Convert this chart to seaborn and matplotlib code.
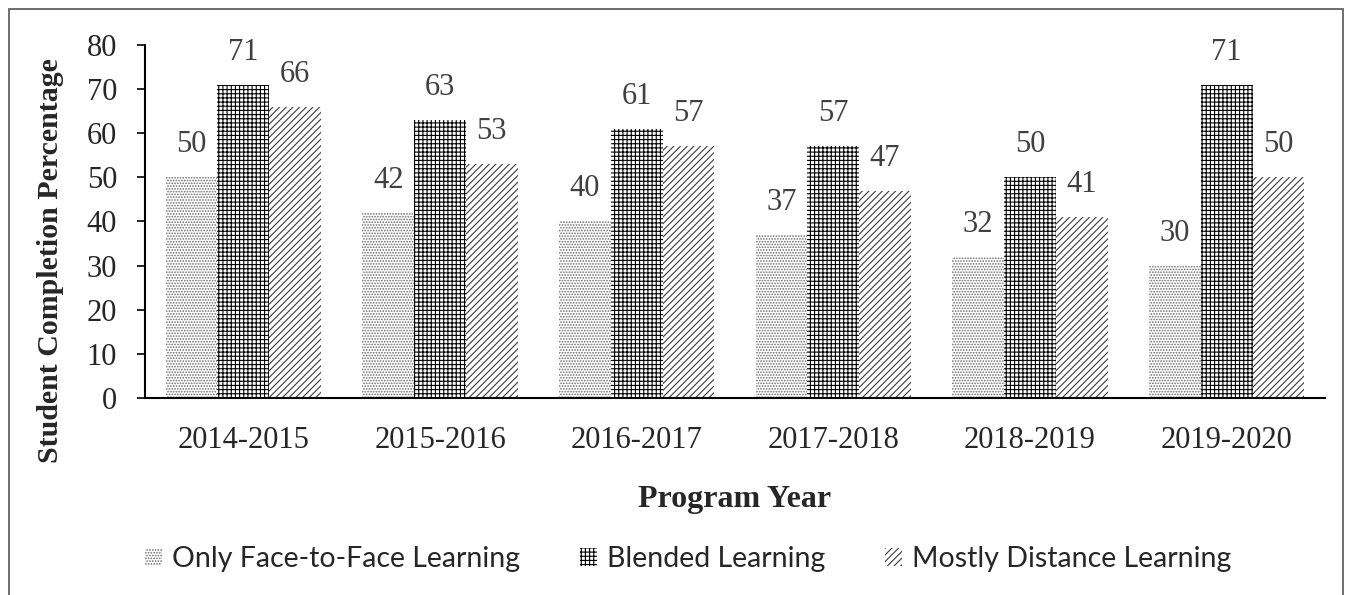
import pandas as pd
import matplotlib.pyplot as plt
import matplotlib.patches as mpatches
from matplotlib.transforms import IdentityTransform
import seaborn as sns

# ---------------- DATA ----------------
years = ["2014-2015", "2015-2016", "2016-2017", "2017-2018", "2018-2019", "2019-2020"]
modes = ["Only Face-to-Face Learning", "Blended Learning", "Mostly Distance Learning"]
face_to_face = [50, 42, 40, 37, 32, 30]
blended = [71, 63, 61, 57, 50, 71]
distance = [66, 53, 57, 47, 41, 50]

df = pd.DataFrame({
    "year": years * 3,
    "mode": [modes[0]] * 6 + [modes[1]] * 6 + [modes[2]] * 6,
    "pct": face_to_face + blended + distance,
})

# ---------------- STYLE ----------------
sns.set_style("white")
plt.rcParams["font.family"] = ["Liberation Serif", "DejaVu Serif"]
plt.rcParams["hatch.linewidth"] = 0.8

hatches = ["......", "++++", "/////"]
hatch_colors = ["#6a6a6a", "#000000", "#3a3a3a"]

W, H = 1353, 595
fig = plt.figure(figsize=(W / 100, H / 100), dpi=100)
ax = fig.add_axes([145 / W, 1 - 398 / H, 1180 / W, 353 / H])

sns.barplot(data=df, x="year", y="pct", hue="mode", hue_order=modes,
            palette=["white"] * 3, width=0.79, ax=ax, legend=False,
            saturation=1, err_kws={"linewidth": 0})

for cont, h, c in zip(ax.containers, hatches, hatch_colors):
    for bar in cont:
        bar.set_hatch(h)
        bar.set_edgecolor(c)
        bar.set_linewidth(0)
        bar.set_facecolor("white")
    ax.bar_label(cont, padding=13, fontsize=22, color="#404040")

ax.set_ylim(0, 80)
ax.set_yticks(range(0, 81, 10))
ax.set_xlim(-0.5, 5.5)
ax.tick_params(axis="y", left=True, length=6, width=1.2,
               labelsize=22, pad=14, color="black")
ax.tick_params(axis="x", length=0, labelsize=22, pad=20)
for s in ["top", "right"]:
    ax.spines[s].set_visible(False)
for s in ["left", "bottom"]:
    ax.spines[s].set_color("black")
    ax.spines[s].set_linewidth(1.5)

ax.set_xlabel("Program Year", fontsize=23, fontweight="bold", labelpad=22)
ax.set_ylabel("Student Completion Percentage", fontsize=21.5, fontweight="bold")
ax.yaxis.set_label_coords(-0.069, 0.39)

handles = [mpatches.Patch(facecolor="white", edgecolor=c, hatch=h, linewidth=0)
           for h, c in zip(hatches, hatch_colors)]
fig.legend(handles, modes, loc="center", bbox_to_anchor=(688 / W, 1 - 559 / H),
           ncol=3, frameon=False, handlelength=0.6, handleheight=0.6,
           handletextpad=0.35, columnspacing=2.1,
           prop={"family": ["Lato", "DejaVu Sans"], "size": 20.5})

# thin frame round the whole picture (open at the bottom edge)
fig.patches.append(mpatches.Rectangle((9, -5), 1334, H - 9 + 5, transform=IdentityTransform(),
                                      fill=False, edgecolor="#555555", linewidth=1.2))

fig.savefig("out.png", dpi=100)
